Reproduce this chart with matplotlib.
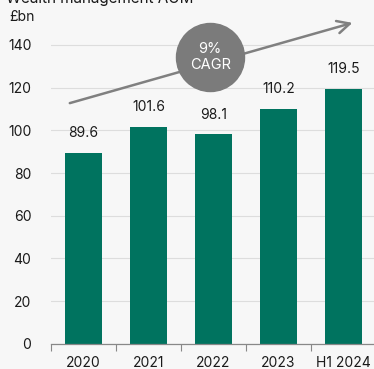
import numpy as np
import matplotlib.pyplot as plt

# Wealth management AUM, £bn
years = ['2020', '2021', '2022', '2023', 'H1 2024']
aum = [89.6, 101.6, 98.1, 110.2, 119.5]
yticks = [0, 20, 40, 60, 80, 100, 120, 140]

teal = '#00735f'
grey = '#7b7b7b'
bg = '#f7f7f7'

plt.rcParams['font.family'] = ['Inter', 'DejaVu Sans']

fig = plt.figure(figsize=(3.74, 3.69), dpi=100, facecolor=bg)
ax = fig.add_axes([0.136, 0.068, 0.864, 0.897], facecolor=bg)

x = np.arange(len(years))
ax.bar(x, aum, width=0.58, color=teal, zorder=3)

for xi, v in zip(x, aum):
    ax.text(xi, v + 6, f'{v:.1f}', ha='center', va='bottom', fontsize=10, color='#1a1a1a')

ax.set_xlim(-0.5, 4.47)
ax.set_ylim(0, 155)
ax.set_yticks(yticks)
ax.set_xticks(x)
ax.set_xticklabels(years)
ax.set_xticks(np.arange(-0.5, 4.5, 1), minor=True)
ax.tick_params(axis='x', which='major', length=0, pad=9, labelsize=10, colors='#1a1a1a')
ax.tick_params(axis='x', which='minor', length=5, color='#888888', width=0.8)
ax.tick_params(axis='y', length=0, pad=14, labelsize=10, colors='#1a1a1a')

ax.grid(axis='y', color='#dddddd', lw=0.8, zorder=0)
for s in ['top', 'right', 'left']:
    ax.spines[s].set_visible(False)
ax.spines['bottom'].set_color('#888888')
ax.spines['bottom'].set_linewidth(0.9)
ax.spines['bottom'].set_zorder(4)

# growth arrow with CAGR bubble
ax.annotate('', xy=(4.18, 150.7), xytext=(-0.25, 112.4),
            arrowprops=dict(arrowstyle='->,head_length=0.9,head_width=0.45',
                            color='#808080', lw=1.8), zorder=5, annotation_clip=False)
ax.scatter([1.95], [134.4], s=2400, color=grey, zorder=6, clip_on=False)
ax.text(1.95, 134.4, '9%\nCAGR', ha='center', va='center', color='white',
        fontsize=10.5, linespacing=1.15, zorder=7)

fig.text(0.025, 0.955, '£bn', fontsize=10, color='#1a1a1a', va='center')
fig.text(0.015, 1 - 2.5 / 369, 'Wealth management AUM', fontsize=11,
         color='#1a1a1a', va='baseline')

fig.savefig('out.png', dpi=100, facecolor=bg)
